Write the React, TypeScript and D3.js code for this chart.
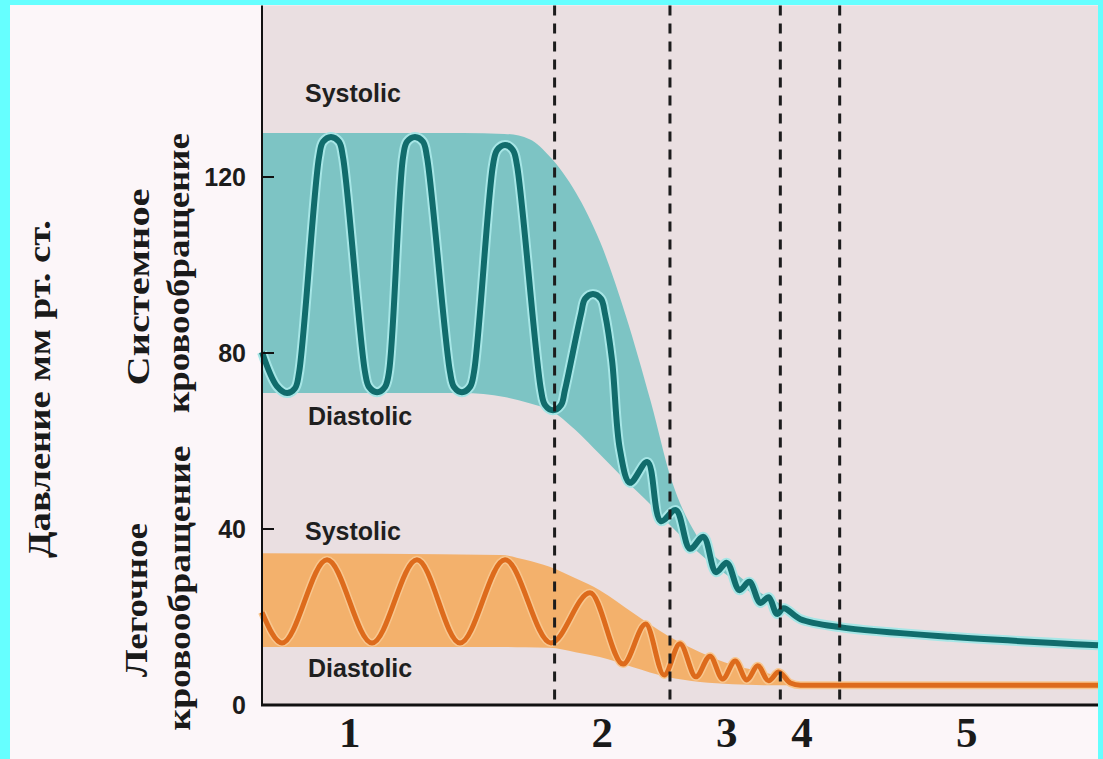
import React from "react";
import * as d3 from "d3";

// ---- data (time in arbitrary units 0..100, pressure in mm Hg) ----
const yTicks = [0, 40, 80, 120];
const stageBounds = [35.0, 48.8, 62.0, 69.1];
const stageLabels = ["1", "2", "3", "4", "5"];
const stageCenters = [10.5, 40.7, 55.6, 64.6, 84.3];

// systemic pressure trace [t, mmHg]
const systemicTrace: [number, number][] = [
  [0, 80.2],
  [1.8, 72.4], [2.99, 70.9], [3.95, 72.0], [4.43, 75.5],
  [6.82, 124.5], [7.3, 128.0], [8.25, 129.1], [9.21, 128.0], [9.69, 124.5],
  [12.32, 75.7], [12.8, 72.3], [13.76, 71.1], [14.71, 72.3], [15.19, 75.7],
  [16.87, 124.5], [17.34, 128.0], [18.3, 129.1], [19.26, 128.0], [19.74, 124.5],
  [22.49, 75.7], [22.97, 72.3], [23.92, 71.1], [24.88, 72.3], [25.36, 75.7],
  [27.63, 122.7], [28.11, 126.1], [29.07, 127.3], [30.02, 126.1], [30.5, 122.7],
  [33.37, 71.6], [33.85, 68.2], [34.81, 67.0], [35.77, 68.2], [36.24, 71.6],
  [38.16, 88.9], [38.64, 92.3], [39.59, 93.4], [40.55, 92.3], [41.03, 88.9],
  [41.87, 78.4], [42.82, 58.0], [44.02, 50.5],
  [46.1, 55.2], [47.7, 41.8], [49.5, 44.3], [51.2, 35.5], [52.8, 38.2], [54.3, 30.2],
  [55.6, 32.3], [57.1, 26.1], [58.3, 28.0], [59.6, 23.2], [60.6, 24.5], [61.6, 20.7],
  [62.4, 22.0], [64.4, 19.5], [69.1, 17.7], [82.3, 15.5], [100, 13.6],
];
// systemic envelope [t, diastolic, systolic]
const systemicBand: [number, number, number][] = [
  [0, 70.9, 130], [24, 70.9, 130], [29, 70.0, 129.8], [32, 68.6, 128.6], [34.5, 67.0, 124.5],
  [37.5, 62.5, 116.6], [40.5, 56.8, 105], [43.5, 51.0, 88.6], [46.5, 45.5, 69],
  [49, 40.5, 51], [52, 35.0, 38.5], [56, 29.0, 31], [59.5, 24.3, 25.7], [63, 21.0, 21.8],
  [64, 19.8, 20.3],
];
// pulmonary pressure trace [t, mmHg]
const pulmonaryTrace: [number, number][] = [
  [0, 21.1], [2.39, 14.1], [7.78, 33.0], [13.16, 14.1], [18.54, 33.0], [23.68, 14.1],
  [29.07, 33.0], [34.57, 14.1], [39.23, 25.5], [43.2, 9.3],
  [45.9, 18.4], [48.1, 6.8], [50.0, 13.9], [51.9, 6.4], [53.6, 11.1], [55.1, 5.9],
  [56.6, 10.0], [58.0, 5.7], [59.3, 8.9], [60.6, 5.5], [61.8, 7.5], [63.2, 5.0],
  [64.4, 4.5], [100, 4.5],
];
// pulmonary envelope [t, diastolic, systolic]
const pulmonaryBand: [number, number, number][] = [
  [0, 13.2, 34.5], [28.5, 13.2, 34.1], [31.5, 13.1, 33.0], [34.4, 13.0, 31.4],
  [37.5, 12.0, 28.8], [40.4, 10.9, 26.1], [44.4, 8.6, 20.9], [48.4, 6.4, 15.9],
  [52.4, 5.2, 12.0], [56.3, 4.7, 9.1], [60.4, 4.5, 7.3], [63.2, 4.5, 5.7],
];

const W = 1103;
const H = 759;

export default function App() {
  const x = d3.scaleLinear().domain([0, 100]).range([262, 1098]);
  const y = d3.scaleLinear().domain([0, 159]).range([705, 5.4]);

  const systemicLine = d3
    .line<[number, number]>()
    .x((d) => x(d[0]))
    .y((d) => y(d[1]))
    .curve(d3.curveCatmullRom.alpha(0.5));
  const pulmonaryLine = d3
    .line<[number, number]>()
    .x((d) => x(d[0]))
    .y((d) => y(d[1]))
    .curve(d3.curveMonotoneX);
  const area = d3
    .area<[number, number, number]>()
    .x((d) => x(d[0]))
    .y0((d) => y(d[1]))
    .y1((d) => y(d[2]))
    .curve(d3.curveMonotoneX);

  const serif = "'Liberation Serif', 'Times New Roman', serif";
  const sans = "'Liberation Sans', Arial, sans-serif";
  const plotTop = y(159);
  const plotBottom = y(0);
  const sysPath = systemicLine(systemicTrace) || "";
  const pulPath = pulmonaryLine(pulmonaryTrace) || "";

  return (
    <svg
      width={W}
      height={H}
      viewBox={`0 0 ${W} ${H}`}
      style={{ position: "absolute", left: 0, top: 0, display: "block" }}
    >
      <rect x={0} y={0} width={W} height={H} fill="#66ffff" />
      <rect x={10} y={5} width={1088} height={H - 5} fill="#fcf6f9" />
      <rect
        x={x(0)}
        y={plotTop}
        width={x(100) - x(0)}
        height={plotBottom - plotTop}
        fill="#eadfe1"
      />

      {/* bands */}
      <path d={area(systemicBand) || ""} fill="#7dc4c4" />
      <path d={area(pulmonaryBand) || ""} fill="#f3b16c" />

      {/* traces with halo */}
      <path d={sysPath} fill="none" stroke="#a6e6e6" strokeWidth={10} strokeLinejoin="round" />
      <path d={sysPath} fill="none" stroke="#116c6c" strokeWidth={6} strokeLinejoin="round" />
      <path d={pulPath} fill="none" stroke="#f8c68e" strokeWidth={8} strokeLinejoin="round" />
      <path d={pulPath} fill="none" stroke="#dd6b1c" strokeWidth={5} strokeLinejoin="round" />

      {/* stage boundaries */}
      {stageBounds.map((b, i) => (
        <line
          key={i}
          x1={x(b)}
          x2={x(b)}
          y1={plotTop}
          y2={plotBottom}
          stroke="#1c1c1c"
          strokeWidth={3}
          strokeDasharray="10 8"
        />
      ))}

      {/* axes */}
      <line x1={x(0)} x2={x(0)} y1={plotTop} y2={plotBottom + 1} stroke="#111" strokeWidth={2} />
      <line x1={x(0) - 1} x2={x(100)} y1={plotBottom} y2={plotBottom} stroke="#111" strokeWidth={3} />
      {yTicks.map((t) => (
        <g key={t}>
          <line x1={x(0)} x2={x(0) + 12} y1={y(t)} y2={y(t)} stroke="#111" strokeWidth={2} />
          <text
            x={246}
            y={y(t) + 9}
            textAnchor="end"
            fontFamily={sans}
            fontWeight="bold"
            fontSize={25}
            fill="#1c1c1c"
          >
            {t}
          </text>
        </g>
      ))}

      {stageLabels.map((s, i) => (
        <text
          key={s}
          x={x(stageCenters[i])}
          y={747}
          textAnchor="middle"
          fontFamily={serif}
          fontWeight="bold"
          fontSize={43}
          fill="#1a1a1a"
        >
          {s}
        </text>
      ))}

      {/* series labels */}
      <g fontFamily={sans} fontWeight="bold" fontSize={25} fill="#1f1f1f">
        <text x={305} y={102}>Systolic</text>
        <text x={308} y={425}>Diastolic</text>
        <text x={305} y={540}>Systolic</text>
        <text x={308} y={677}>Diastolic</text>
      </g>

      {/* rotated y-axis titles */}
      <g fontFamily={serif} fontWeight="bold" fontSize={32} fill="#1a1a1a" textAnchor="middle">
        <text transform="translate(50,389) rotate(-90)" textLength={338} lengthAdjust="spacingAndGlyphs">
          Давление мм рт. ст.
        </text>
        <text transform="translate(149,287) rotate(-90)" textLength={197} lengthAdjust="spacingAndGlyphs">
          Системное
        </text>
        <text transform="translate(189,273) rotate(-90)" textLength={280} lengthAdjust="spacingAndGlyphs">
          кровообращение
        </text>
        <text transform="translate(147,600) rotate(-90)" textLength={154} lengthAdjust="spacingAndGlyphs">
          Легочное
        </text>
        <text transform="translate(190,588) rotate(-90)" textLength={285} lengthAdjust="spacingAndGlyphs">
          кровообращение
        </text>
      </g>
    </svg>
  );
}
